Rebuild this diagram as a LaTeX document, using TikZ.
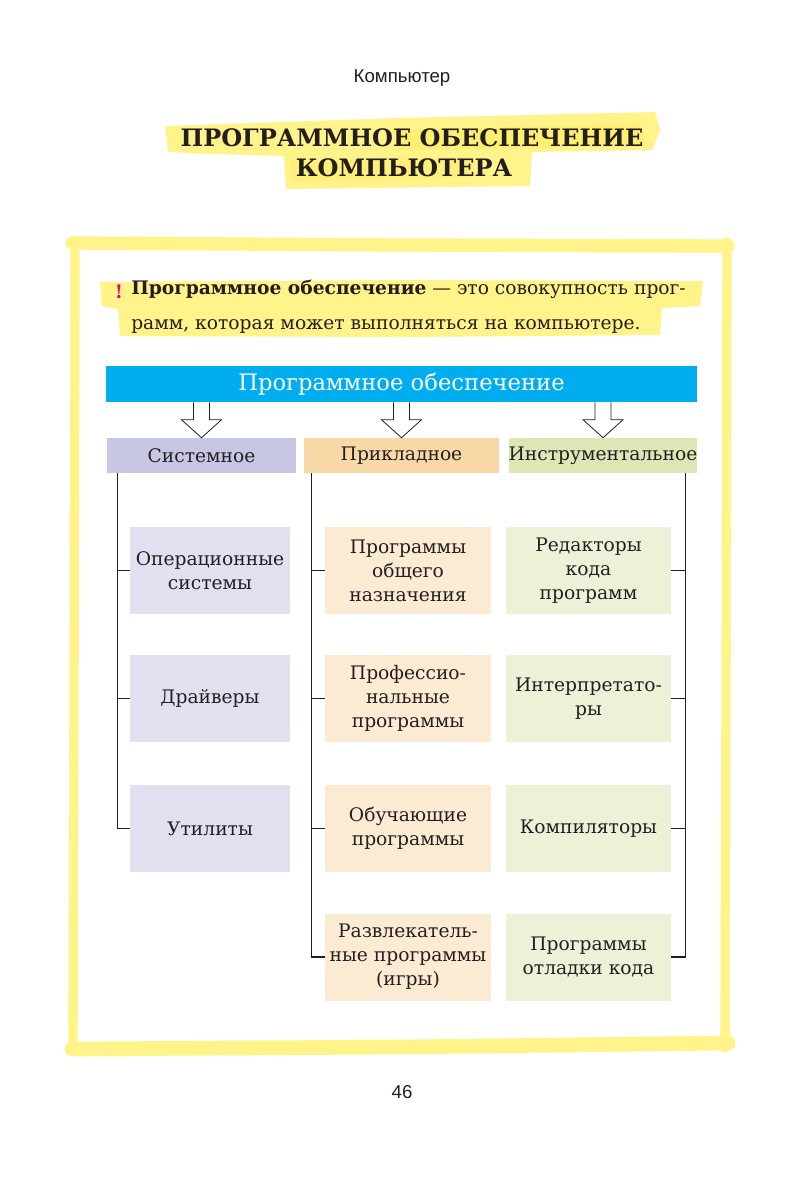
\documentclass[tikz,border=0pt]{standalone}
\usepackage{fontspec}
\setmainfont{DejaVu Serif}
\newfontfamily\sansfont{Liberation Sans}
\usetikzlibrary{calc}
\definecolor{hl}{HTML}{FFF38A}
\definecolor{hldark}{HTML}{FFEC5C}
\definecolor{barblue}{HTML}{00AEEF}
\definecolor{sysH}{HTML}{C7C7E3}
\definecolor{sysB}{HTML}{E0E0F1}
\definecolor{appH}{HTML}{F9D8A7}
\definecolor{appB}{HTML}{FCEBD3}
\definecolor{insH}{HTML}{DEE6B5}
\definecolor{insB}{HTML}{EDF1D8}
\definecolor{excl}{HTML}{E6007E}
\definecolor{ink}{HTML}{231F20}
\tikzset{
  brush/.style={draw=hl, line cap=round, line join=round},
  titlef/.style={font=\fontsize{18}{22}\selectfont\bfseries, text=ink, inner sep=0pt},
  sanslbl/.style={font=\sansfont\fontsize{14}{16}\selectfont, text=ink, inner sep=0pt},
  bartxt/.style={fill=barblue, text=white, inner sep=0pt, minimum width=443.25pt, minimum height=27pt, font=\fontsize{17}{20}\selectfont},
  cat/.style={inner sep=0pt, minimum height=26.25pt, text=ink, font=\fontsize{14}{17}\selectfont},
  item/.style={inner sep=0pt, minimum height=65.25pt, align=center, text=ink, font=\fontsize{14}{18}\selectfont},
  tree/.style={draw=ink, line width=1.05pt},
  hollow/.style={draw=ink, fill=white, line width=0.6pt, line join=miter},
}
\newcommand\hollowarrow[1]{%
  \filldraw[hollow] ($(bar.south -| #1.north)+(-8,0)$) -- ($(#1.north)+(-8,-18)$) -- ($(#1.north)+(-20,-18)$) -- (#1.north) -- ($(#1.north)+(20,-18)$) -- ($(#1.north)+(8,-18)$) -- ($(bar.south -| #1.north)+(8,0)$);}
\begin{document}
\begin{tikzpicture}[x=0.75pt,y=-0.75pt]
\useasboundingbox (0,0) rectangle (804,1182);
\fill[white] (0,0) rectangle (804,1182);

% header
\node[sanslbl] (hdr) at (402,78) {Компьютер};

% title highlight
\fill[hl] (165,126) -- (400,118) -- (655,112) -- (660,130) -- (652,150) -- (532,152) -- (530,186) -- (286,189) -- (284,156) -- (210,154) -- (168,152) -- cycle;
\fill[hldark, opacity=0.55] (395,130) -- (640,124) -- (646,146) -- (398,150) -- cycle;
\fill[hldark, opacity=0.35] (290,160) -- (470,157) -- (472,178) -- (292,182) -- cycle;
\node[titlef] (t1) at (412,138) {ПРОГРАММНОЕ ОБЕСПЕЧЕНИЕ};
\node[titlef] (t2) at (404,168) {КОМПЬЮТЕРА};

% frame
\draw[brush, line width=10pt] (72,243) -- (400,245) -- (728,246);
\draw[brush, line width=7pt] (75,240) -- (74,700) -- (73,1048);
\draw[brush, line width=7pt] (727,242) -- (726,700) -- (725,1048);
\draw[brush, line width=11pt] (72,1049) -- (400,1047) -- (728,1043);

% definition highlight
\fill[hl] (100,282) -- (400,280) -- (703,281) -- (700,306) -- (662,308) -- (660,335) -- (400,337) -- (120,336) -- (118,309) -- (102,306) -- cycle;
\node[inner sep=0pt, text=excl, font=\fontsize{14}{18}\selectfont\bfseries] (ex) at (119,292) {!};
\node[inner sep=0pt, anchor=west, align=left, text=ink, font=\fontsize{14}{26}\selectfont] (def) at (131,307)
  {\textbf{Программное обеспечение} — это совокупность прог-\\рамм, которая может выполняться на компьютере.};

% main bar
\node[bartxt] (bar) at (401.5,384) {Программное обеспечение};

% categories
\node[cat, fill=sysH, minimum width=141.75pt] (sys) at (201.5,455.5) {Системное};
\node[cat, fill=appH, minimum width=146.25pt] (app) at (401.5,455.5) {Прикладное};
\node[cat, fill=insH, minimum width=141pt] (ins) at (603,455.5) {Инструментальное};

\hollowarrow{sys}
\hollowarrow{app}
\hollowarrow{ins}

% left column
\node[item, fill=sysB, minimum width=120pt] (os) at (210,570.5) {Операционные\\системы};
\node[item, fill=sysB, minimum width=120pt] (drv) at (210,698.5) {Драйверы};
\node[item, fill=sysB, minimum width=120pt] (util) at (210,828.5) {Утилиты};

% middle column
\node[item, fill=appB, minimum width=124.5pt] (gen) at (408,570.5) {Программы\\общего\\назначения};
\node[item, fill=appB, minimum width=124.5pt] (prof) at (408,698.5) {Профессио-\\нальные\\программы};
\node[item, fill=appB, minimum width=124.5pt] (edu) at (408,828.5) {Обучающие\\программы};
\node[item, fill=appB, minimum width=124.5pt] (game) at (408,957) {Развлекатель-\\ные программы\\(игры)};

% right column
\node[item, fill=insB, minimum width=123.75pt] (edit) at (588.5,570.5) {Редакторы\\кода\\программ};
\node[item, fill=insB, minimum width=123.75pt] (interp) at (588.5,698.5) {Интерпретато-\\ры};
\node[item, fill=insB, minimum width=123.75pt] (comp) at (588.5,828.5) {Компиляторы};
\node[item, fill=insB, minimum width=123.75pt] (dbg) at (588.5,957) {Программы\\отладки кода};

% tree lines
\coordinate (lt) at ($(sys.south west)+(11,0)$);
\coordinate (mt) at ($(app.south west)+(8,0)$);
\coordinate (rt) at ($(ins.south east)+(-12,0)$);
\draw[tree] (lt) |- (util.west);
\draw[tree] (os.west) -- (os.west -| lt);
\draw[tree] (drv.west) -- (drv.west -| lt);
\draw[tree] (mt) |- (game.west);
\draw[tree] (gen.west) -- (gen.west -| mt);
\draw[tree] (prof.west) -- (prof.west -| mt);
\draw[tree] (edu.west) -- (edu.west -| mt);
\draw[tree] (rt) |- (dbg.east);
\draw[tree] (edit.east) -- (edit.east -| rt);
\draw[tree] (interp.east) -- (interp.east -| rt);
\draw[tree] (comp.east) -- (comp.east -| rt);

% page number
\node[sanslbl] (pg) at (402,1092) {46};
\end{tikzpicture}
\end{document}
